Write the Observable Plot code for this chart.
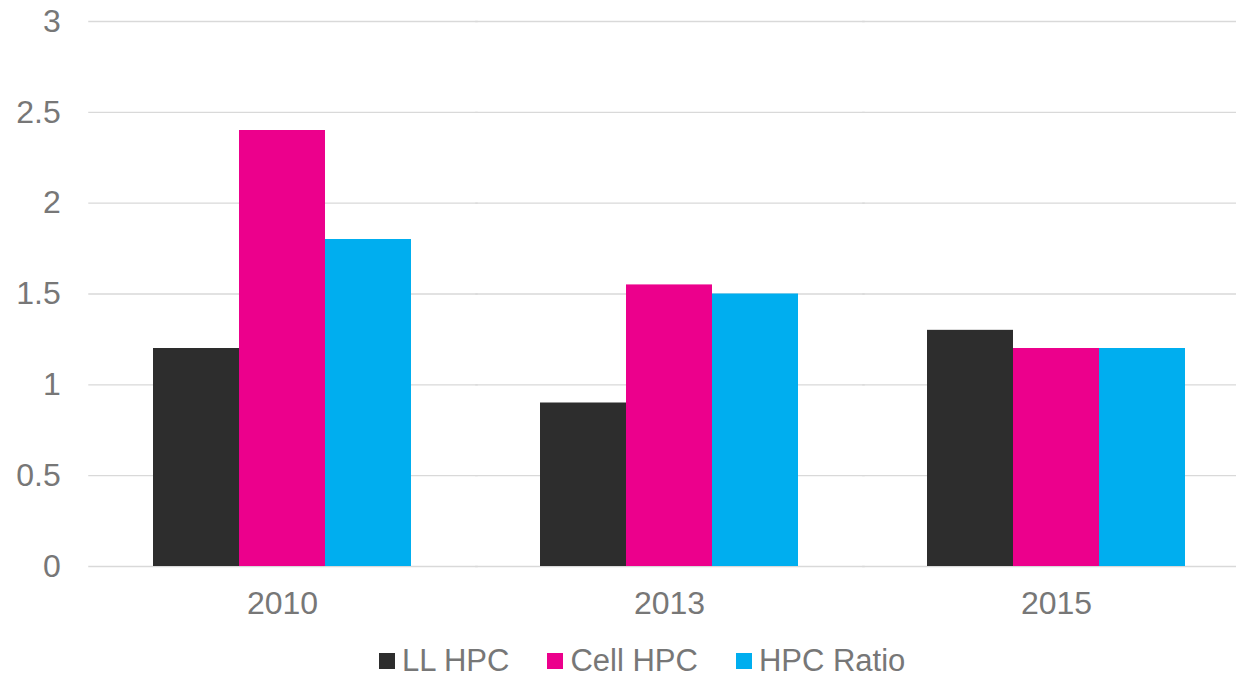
<!DOCTYPE html>
<html>
<head>
<meta charset="utf-8">
<script src="https://cdn.jsdelivr.net/npm/d3@7"></script>
<script src="https://cdn.jsdelivr.net/npm/@observablehq/plot@0.6"></script>
<style>
  html, body { margin: 0; padding: 0; background: #fff; overflow: hidden; }
  body { width: 1236px; height: 678px; font-family: "Liberation Sans", Arial, sans-serif; }
  #legend { display: flex; align-items: center; height: 32px; padding-top: 16px; padding-left: 379px;
            font-size: 31px; color: #777; font-family: "Liberation Sans", Arial, sans-serif; }
  #legend .item { display: flex; align-items: center; margin-right: 38px; }
  #legend .sw { width: 16px; height: 16px; margin-right: 7px; }
</style>
</head>
<body>
<div id="chart"></div>
<div id="legend"></div>
<script>
const years = ["2010", "2013", "2015"];
const seriesNames = ["LL HPC", "Cell HPC", "HPC Ratio"];
const seriesColors = ["#2d2d2d", "#ec008c", "#00aeef"];
const llHpc = [1.2, 0.9, 1.3];
const cellHpc = [2.4, 1.55, 1.2];
const hpcRatio = [1.8, 1.5, 1.2];
const yTicks = [0, 0.5, 1, 1.5, 2, 2.5, 3];

const valuesBySeries = [llHpc, cellHpc, hpcRatio];
const data = [];
years.forEach((yr, i) => {
  seriesNames.forEach((s, j) => data.push({year: yr, series: s, value: valuesBySeries[j][i]}));
});

const font = "Liberation Sans, Arial, sans-serif";
const halfGap = 64.75;
const plot = Plot.plot({
  width: 1236,
  height: 629,
  marginLeft: 88,
  marginRight: -13,
  marginTop: 21,
  marginBottom: 63,
  style: {fontFamily: font, fontSize: "32px", color: "#777", background: "white", overflow: "visible"},
  fx: {domain: years, paddingInner: 0.334, paddingOuter: 0.165, label: null, tickSize: 0, tickPadding: 25, axis: "bottom"},
  x: {domain: seriesNames, padding: 0, axis: null},
  y: {domain: [0, 3], axis: null},
  color: {domain: seriesNames, range: seriesColors},
  marks: [
    Plot.ruleY(yTicks, {y: d => d, stroke: "#d9d9d9", strokeWidth: 1.3, insetLeft: -halfGap, insetRight: -halfGap - 2}),
    Plot.text(yTicks, {fx: () => years[0], y: d => d, text: d => String(d), frameAnchor: "left", dx: -28 - halfGap, textAnchor: "end", fill: "#777", fontSize: 32}),
    Plot.barY(data, {fx: "year", x: "series", y: "value", fill: "series"})
  ]
});
document.getElementById("chart").appendChild(plot);

const legend = document.getElementById("legend");
seriesNames.forEach((s, i) => {
  const item = document.createElement("div");
  item.className = "item";
  const sw = document.createElement("div");
  sw.className = "sw";
  sw.style.background = seriesColors[i];
  const label = document.createElement("span");
  label.textContent = s;
  item.appendChild(sw);
  item.appendChild(label);
  legend.appendChild(item);
});
</script>
</body>
</html>
